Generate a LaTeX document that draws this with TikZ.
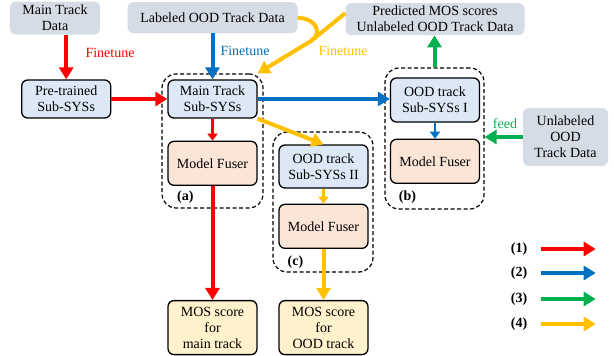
\documentclass[tikz,border=0pt]{standalone}
\usepackage{fontspec}
\setmainfont{Liberation Serif}
\usetikzlibrary{arrows.meta,positioning}

\definecolor{datagray}{RGB}{214,220,229}
\definecolor{subblue}{RGB}{220,232,245}
\definecolor{fuserpeach}{RGB}{251,229,214}
\definecolor{mosyellow}{RGB}{255,242,204}
\definecolor{arrred}{RGB}{255,0,0}
\definecolor{arrblue}{RGB}{0,112,192}
\definecolor{arrgreen}{RGB}{0,176,80}
\definecolor{arryellow}{RGB}{255,192,0}

\begin{document}
\begin{tikzpicture}[
	x = 1pt, y = -1pt, % pixel grid, y down
	font = \fontsize{14}{16}\selectfont,
	D/.style={rounded corners=6pt, fill=datagray, align=center, inner sep=0pt},  % data boxes
	S/.style={rounded corners=6pt, draw=black, line width=1.3pt, fill=subblue, align=center, inner sep=0pt, minimum width=89pt},
	F/.style={rounded corners=6pt, draw=black, line width=1.3pt, fill=fuserpeach, align=center, inner sep=0pt, minimum width=89pt, minimum height=44pt},
	M/.style={rounded corners=6pt, draw=black, line width=1.3pt, fill=mosyellow, align=center, inner sep=0pt, minimum width=89pt, minimum height=54pt},
	G/.style={draw=black, dash pattern=on 4pt off 2.5pt, line width=1.2pt, rounded corners=14pt, inner sep=0pt},
	L/.style={font=\fontsize{14}{16}\selectfont\bfseries},
	A1/.style={-{Triangle[width=14pt,length=12pt]}, line width=4pt, draw=arrred},
	A2/.style={-{Triangle[width=14pt,length=12pt]}, line width=4pt, draw=arrblue},
	A3/.style={-{Triangle[width=14pt,length=12pt]}, line width=4pt, draw=arrgreen},
	A4/.style={-{Triangle[width=14pt,length=12pt]}, line width=4pt, draw=arryellow},
	a1/.style={-{Triangle[width=10pt,length=7pt]}, line width=2.5pt, draw=arrred},
	a2/.style={-{Triangle[width=10pt,length=7pt]}, line width=2.5pt, draw=arrblue},
	a4/.style={-{Triangle[width=10pt,length=7pt]}, line width=2.5pt, draw=arryellow},
	]
	\useasboundingbox (0,0) rectangle (614,356);

	% Sub-systems and fusers
	\node[S, minimum height=38pt] (MT) at (212.5,99) {Main Track\\Sub-SYSs};
	\node[F] (FA) [below = 22pt of MT] {Model Fuser};
	\node[S, minimum height=38pt] (P) [left = 56pt of MT] {Pre-trained\\Sub-SYSs};
	\node[S, minimum height=44pt] (S1) at (435,100) {OOD track\\Sub-SYSs I};
	\node[F] (FB) [below = 16pt of S1] {Model Fuser};
	\node[S, minimum height=43pt] (S2) at (323.5,166.5) {OOD track\\Sub-SYSs II};
	\node[F] (FC) [below = 15pt of S2] {Model Fuser};

	% Outputs
	\node[M] (OM) [below = 114pt of FA] {MOS score\\for\\main track};
	\node[M] (OO) [below = 51pt of FC] {MOS score\\for\\OOD track};

	% Data
	\node[D, minimum width=90pt, minimum height=33pt] (MD) at (55,18) {Main Track\\Data};
	\node[D, minimum width=170pt, minimum height=31pt] (LD) [above = 46pt of MT] {Labeled OOD Track Data};
	\node[D, minimum width=179pt, minimum height=32pt] (PD) [above = 42pt of S1] {Predicted MOS scores\\Unlabeled OOD Track Data};
	\node[D, minimum width=85pt, minimum height=58pt] (UD) at (565.5,137) {Unlabeled\\OOD\\Track Data};

	% Dashed groups
	\node[G, minimum width=101pt, minimum height=134pt] (GA) at (212.5,141) {};
	\node[G, minimum width=99pt, minimum height=141pt] (GB) at (434.5,138.5) {};
	\node[G, minimum width=100pt, minimum height=140pt] (GC) at (323,202) {};
	\node[L] (la) at ([xshift=24pt,yshift=11pt]GA.south west) {(a)};
	\node[L] (lb) at ([xshift=23pt,yshift=12pt]GB.south west) {(b)};
	\node[L] (lc) at ([xshift=23pt,yshift=10pt]GC.south west) {(c)};

	% Paths connecting nodes
	\draw[A1] (MD.south -| P.north) -- (P.north);
	\draw[A1] (P.east) -- (MT.west);
	\draw[a1] (MT.south) -- (FA.north);
	\draw[A1] (FA.south) -- (OM.north);

	\draw[A2] (LD.south) -- (MT.north);
	\draw[A2] (MT.east) -- (MT.east -| S1.west);
	\draw[a2] (S1.south) -- (FB.north);

	\draw[A3] (GB.north) -- (GB.north |- PD.south);
	\draw[A3] (UD.west) -- (UD.west -| GB.east);

	\coordinate (yj) at (311,41);
	\draw[A4] (LD.east) .. controls (318,19) and (322,34) .. (yj) -- ([yshift=6pt]MT.north east);
	\draw[line width=4pt, arryellow] ([yshift=6pt]PD.west) -- (yj);
	\draw[A4] (MT.south east) -- (S2.north);
	\draw[a4] (S2.south) -- (FC.north);
	\draw[A4] (FC.south) -- (OO.north);

	% Arrow labels
	\node[text=arrred] (ft1) at (110,53) {Finetune};
	\node[text=arrblue] (ft2) at (245,51) {Finetune};
	\node[text=arryellow] (ft3) at (343,51) {Finetune};
	\node[text=arrgreen] (fd) at (505,124) {feed};

	% Legend
	\foreach \i/\yy in {1/249, 2/273, 3/299, 4/324} {
		\node[L] (L\i) at (519,\yy) {(\i)};
		\draw[A\i] ([xshift=10pt]L\i.east) -- ++(55,0);
	}
\end{tikzpicture}
\end{document}
